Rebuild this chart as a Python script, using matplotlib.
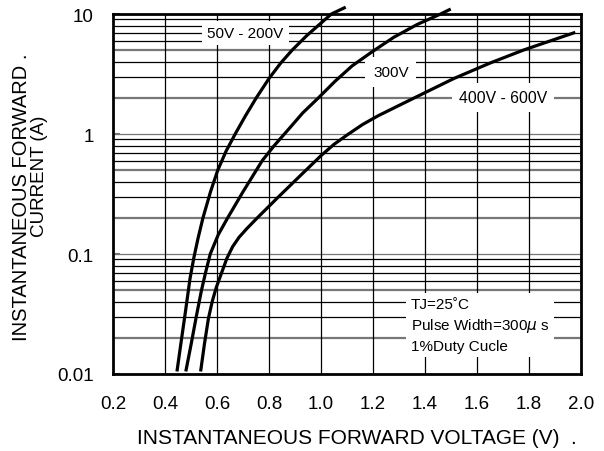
import matplotlib
matplotlib.use("Agg")
import matplotlib.pyplot as plt
from matplotlib.ticker import FixedLocator, NullLocator

plt.rcParams['font.family'] = ['Liberation Sans', 'DejaVu Sans']

# ---- data ----
v_50_200 = [0.446, 0.462, 0.479, 0.496, 0.5105, 0.527, 0.546, 0.575, 0.603, 0.635, 0.67, 0.708,
            0.751, 0.80, 0.845, 0.889, 0.945, 1.0, 1.04, 1.095]
i_50_200 = [0.0105, 0.0185, 0.0335, 0.062, 0.092, 0.135, 0.2, 0.33, 0.5, 0.72, 1.0, 1.4,
            2.0, 2.9, 3.9, 5.0, 6.6, 8.4, 10.0, 11.4]

v_300 = [0.48, 0.50, 0.521, 0.540, 0.556, 0.574, 0.605, 0.641, 0.70, 0.774, 0.82, 0.876, 0.93,
         0.99, 1.054, 1.12, 1.197, 1.28, 1.371, 1.46, 1.499]
i_300 = [0.0105, 0.0175, 0.0306, 0.0495, 0.07, 0.1, 0.145, 0.2, 0.33, 0.6, 0.8, 1.1, 1.5,
         2.0, 2.75, 3.7, 4.85, 6.4, 8.2, 10.0, 11.0]

v_400_600 = [0.537, 0.552, 0.567, 0.582, 0.597, 0.618, 0.638, 0.66, 0.685, 0.715, 0.755, 0.83, 0.914,
             1.0, 1.05, 1.10, 1.16, 1.22, 1.359, 1.511, 1.65, 1.778, 1.978]
i_400_600 = [0.0105, 0.018, 0.029, 0.0405, 0.0525, 0.07, 0.092, 0.115, 0.138, 0.163, 0.2, 0.29, 0.436,
             0.66, 0.82, 0.98, 1.2, 1.42, 2.0, 2.9, 3.9, 5.0, 7.03]

x_ticks = [0.2, 0.4, 0.6, 0.8, 1.0, 1.2, 1.4, 1.6, 1.8, 2.0]
x_ticklabels = ['0.2', '0.4', '0.6', '0.8', '1.0', '1.2', '1.4', '1.6', '1.8', '2.0']
y_ticks = [0.01, 0.1, 1, 10]
y_ticklabels = ['0.01', '0.1', '1', '10']

series_labels = ['50V - 200V', '300V', '400V - 600V']

fig = plt.figure(figsize=(6.04, 4.52), dpi=100)
ax = fig.add_axes([113/604, 1-375/452, 468/604, 360/452])
ax.set_yscale('log')
ax.set_xlim(0.2, 2.0)
ax.set_ylim(0.01, 10)

# grid
decades = [0.01, 0.1, 1]
minor_black = [d*m for d in decades for m in (3, 4, 6, 7, 8, 9)]
minor_gray = [d*m for d in decades for m in (2, 5)]
for y in minor_black:
    ax.axhline(y, color='black', lw=0.9, zorder=1)
for y in minor_gray:
    ax.axhline(y, color='#777777', lw=1.6, zorder=1)
for y in y_ticks:
    ax.axhline(y, color='#777777', lw=0.9, zorder=1)
for x in x_ticks[1:-1]:
    ax.axvline(x, color='black', lw=0.9, zorder=1)

for vs, cs in ((v_50_200, i_50_200), (v_300, i_300), (v_400_600, i_400_600)):
    ax.plot(vs, cs, color='black', lw=2.3, zorder=3, clip_on=False,
            solid_capstyle='butt', solid_joinstyle='round')

ax.text(0.709, 6.95, series_labels[0], fontsize=11, ha='center', va='center', zorder=2,
        bbox=dict(facecolor='white', edgecolor='none', boxstyle='square,pad=0.35'))
ax.text(1.269, 3.29, series_labels[1], fontsize=11, ha='center', va='center', zorder=2,
        bbox=dict(facecolor='white', edgecolor='none', boxstyle='square,pad=0.5'))
ax.text(1.699, 2.03, series_labels[2], fontsize=11.3, ha='center', va='center', zorder=2,
        bbox=dict(facecolor='white', edgecolor='none', boxstyle='square,pad=0.45'))
ax.text(1.345, 0.0256, 'TJ=25˚C\nPulse Width=300$\\mu$ s\n1%Duty Cucle', fontsize=11,
        ha='left', va='center', linespacing=1.38, zorder=2,
        bbox=dict(facecolor='white', edgecolor='none', boxstyle='square,pad=0.3'))

ax.xaxis.set_major_locator(FixedLocator(x_ticks))
ax.set_xticklabels(x_ticklabels, fontsize=13.5)
ax.yaxis.set_major_locator(FixedLocator(y_ticks))
ax.set_yticklabels(y_ticklabels, fontsize=13.5)
ax.yaxis.set_minor_locator(NullLocator())
ax.tick_params(axis='x', length=0, pad=15)
ax.tick_params(axis='y', which='major', direction='in', length=5, width=1.5, color='#777777', pad=14)

for s in ax.spines.values():
    s.set_linewidth(2.0)
    s.set_zorder(4)

fig.text(357/604, 1-439/452, 'INSTANTANEOUS FORWARD VOLTAGE (V)  .', fontsize=15, ha='center', va='center')
fig.text(22/604, 1-197/452, 'INSTANTANEOUS FORWARD .', fontsize=14.5, ha='center', va='center', rotation=90)
fig.text(40/604, 1-176/452, 'CURRENT (A)', fontsize=13.5, ha='center', va='center', rotation=90)

fig.savefig('out.png', dpi=100)
